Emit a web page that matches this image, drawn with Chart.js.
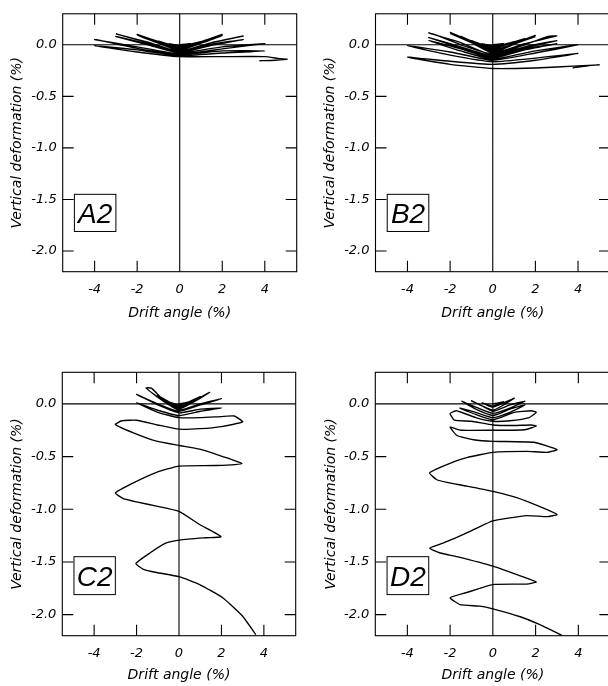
<!DOCTYPE html>
<html>
<head>
<meta charset="utf-8">
<script src="https://cdn.jsdelivr.net/npm/chart.js@4.4.1/dist/chart.umd.min.js"></script>
<style>
  html, body { margin: 0; padding: 0; background: #fff; }
  body { width: 608px; height: 686px; position: relative; overflow: hidden; }
  canvas { position: absolute; }
</style>
</head>
<body>
<script>
// axis ticks shared by the four panels
const xTickVals = [-4, -2, 0, 2, 4];
const yTickVals = [0, -0.5, -1, -1.5, -2];
const xRange = [-5.5, 5.5];
const yRange = [-2.2, 0.3];

// specimen A2: drift angle (%) and vertical deformation (%)
const driftA = [0, 0.5, 0, -0.5, 0, 1, 0.5, 0, -1, -0.5, 0, 1.5, 0.7, 0, -1.5, -0.7, 0,
  1, 2, 1, 0, -1, -2, -1, 0, 1, 2, 1, 0, -1, -2, -1, 0,
  1.5, 3, 1.5, 0, -1.5, -3, -1.5, 0, 1.5, 3, 1.5, 0, -1.5, -3, -1.5, 0,
  2, 4, 3.5, 2, 0, -2, -4, -3.8, -2, 0, 2, 4, 2, 0, -2, -4, -2, 0,
  2, 4, 4.7, 5.05, 4.5, 3.75];
const vertA = [0, 0.01, -0.01, 0.01, -0.015, 0.03, 0.0, -0.025, 0.035, 0.0, -0.03, 0.06, 0.01, -0.035, 0.065, 0.01, -0.04,
  0.02, 0.10, 0.03, -0.045, 0.02, 0.10, 0.03, -0.05, 0.015, 0.09, 0.02, -0.055, 0.015, 0.095, 0.02, -0.06,
  0.02, 0.085, 0.02, -0.065, 0.025, 0.105, 0.02, -0.07, 0.005, 0.05, -0.005, -0.075, 0.01, 0.08, 0.0, -0.08,
  -0.02, 0.01, 0.0, -0.04, -0.09, -0.02, 0.05, 0.045, -0.035, -0.095, -0.06, -0.06, -0.08, -0.105, -0.05, -0.01, -0.07, -0.115,
  -0.115, -0.115, -0.135, -0.14, -0.15, -0.155];

// specimen B2
const driftB = [0, 0.5, 0, -0.5, 0, 1, 0.5, 0, -1, -0.5, 0, 1.5, 0.7, 0, -1.5, -0.7, 0,
  1, 2, 1, 0, -1, -2, -1, 0, 1, 2, 1, 0, -1, -2, -1, 0,
  1.5, 3, 2.6, 1.5, 0, -1.5, -2.8, -3, -2.7, -1.5, 0,
  1.5, 3, 1.5, 0, -1.5, -3, -1.5, 0, 1.5, 3, 1.5, 0, -1.5, -3, -1.5, 0,
  2, 4, 2, 0, -2, -4, -2, 0, 2, 4, 2, 0, -2, -4, -2, 0,
  2, 4, 5, 4.6, 3.75];
const vertB = [0, 0.01, -0.01, 0.01, -0.02, 0.03, 0.0, -0.03, 0.04, 0.0, -0.035, 0.06, 0.005, -0.045, 0.08, 0.01, -0.055,
  0.01, 0.09, 0.015, -0.065, 0.025, 0.12, 0.03, -0.07, 0.005, 0.08, 0.005, -0.075, 0.02, 0.11, 0.02, -0.08,
  0.01, 0.085, 0.08, 0.0, -0.09, 0.0, 0.105, 0.115, 0.095, 0.02, -0.1,
  -0.02, 0.04, -0.03, -0.11, -0.02, 0.07, -0.03, -0.12, -0.04, 0.01, -0.05, -0.13, -0.04, 0.04, -0.06, -0.14,
  -0.06, 0.0, -0.08, -0.15, -0.07, -0.01, -0.1, -0.165, -0.13, -0.085, -0.15, -0.19, -0.16, -0.12, -0.19, -0.23,
  -0.225, -0.205, -0.195, -0.2, -0.225];

// specimen C2
const driftC = [0, 0.5, 0, -0.5, 0, 1, 0.5, 0, -1, -0.5, 0,
  0.7, 1.45, 0.7, 0, -0.7, -1.3, -1.55, -0.7, 0,
  1, 2, 1, 0, -1, -2, -1.8, -1, 0, 1, 2, 1, 0, -1, -2, -1, 0,
  1, 2, 2.6, 3, 2, 1, 0, -1, -2, -2.7, -3, -2.15, -1.06, 0, 0.97, 2.06, 2.96,
  1.75, 0, -1.06, -2.15, -3, -2.62, -2, -1.06, 0, 0.97, 1.98,
  1.28, 0.1, -0.6, -1.37, -2.03, -1.68, -1.06, 0, 0.97, 2.06, 3.0, 3.62];
const vertC = [0, 0.02, -0.01, 0.02, -0.02, 0.07, 0.01, -0.03, 0.08, 0.01, -0.04,
  0.03, 0.11, 0.02, -0.05, 0.03, 0.15, 0.15, 0.02, -0.06,
  0.0, 0.05, -0.01, -0.07, 0.0, 0.09, 0.07, -0.01, -0.085, -0.05, -0.04, -0.07, -0.11, -0.06, 0.01, -0.08, -0.13,
  -0.13, -0.12, -0.115, -0.17, -0.215, -0.235, -0.24, -0.2, -0.155, -0.16, -0.196, -0.275, -0.354, -0.395, -0.43, -0.5, -0.567,
  -0.585, -0.59, -0.65, -0.75, -0.845, -0.9, -0.93, -0.97, -1.02, -1.145, -1.26,
  -1.27, -1.29, -1.32, -1.415, -1.515, -1.57, -1.6, -1.64, -1.715, -1.84, -2.015, -2.19];

// specimen D2
const driftD = [0, 0.5, 0, -0.5, 0, 1, 0.5, 0, -1, -0.5, 0,
  0.8, 1.5, 0.8, 0, -0.8, -1.45, -0.8, 0, 0.8, 1.5, 0.8, 0, -0.8, -1.55, -0.8, 0,
  1, 1.8, 2.03, 1.7, 0.8, 0, -0.8, -1.7, -2, -1.8, -1, 0,
  1, 1.8, 2.03, 1.5, 0, -1.5, -2, -1.68,
  -0.9, 0, 1.9, 3.0, 2.53, 1.59, 0, -1.22, -2.15, -2.96, -2.62, -2.15, -1.22, 0, 1.12, 2.37, 3.0,
  2.53, 1.59, 0, -1.22, -2.31, -2.96, -2.46, -1.68, 0, 1.12, 2.03, 1.59, 0, -1.22, -2.0,
  -1.53, -0.6, 0, 1.28, 2.2, 3.23];
const vertD = [0, 0.02, -0.02, 0.01, -0.03, 0.055, -0.01, -0.06, 0.03, -0.02, -0.07,
  -0.01, 0.025, -0.04, -0.09, -0.03, 0.025, -0.05, -0.11, -0.05, -0.01, -0.08, -0.13, -0.08, -0.04, -0.1, -0.15,
  -0.08, -0.065, -0.08, -0.13, -0.16, -0.165, -0.13, -0.065, -0.09, -0.155, -0.165, -0.2,
  -0.205, -0.2, -0.21, -0.245, -0.25, -0.25, -0.22, -0.30,
  -0.34, -0.355, -0.364, -0.434, -0.46, -0.45, -0.46, -0.51, -0.576, -0.655, -0.72, -0.745, -0.78, -0.83, -0.89, -0.99, -1.05,
  -1.07, -1.06, -1.11, -1.225, -1.32, -1.37, -1.415, -1.45, -1.54, -1.62, -1.69, -1.71, -1.715, -1.79, -1.84,
  -1.905, -1.92, -1.945, -2.02, -2.095, -2.196];

// label box corners in data units
const labelBoxX = [-4.95, -3.0];
const labelBoxY = [-1.45, -1.81];

const TICK = 11;
const tickFont = { family: 'DejaVu Sans', size: 13, style: 'italic' };
const titleFont = { family: 'DejaVu Sans', size: 14, style: 'italic' };

const panels = [
  { name: 'A2', drift: driftA, vert: vertA, x0: 0, y0: 0, w: 300, h: 330, L: 62.7, T: 11, R: 296.7, B: 271.7, yTitleX: 17, xTitleY: 313 },
  { name: 'B2', drift: driftB, vert: vertB, x0: 313, y0: 0, w: 300, h: 330, L: 375.5, T: 10, R: 610, B: 271.7, yTitleX: 330.5, xTitleY: 313 },
  { name: 'C2', drift: driftC, vert: vertC, x0: 0, y0: 340, w: 300, h: 346, L: 62.3, T: 372.3, R: 295.7, B: 635.7, yTitleX: 17.5, xTitleY: 675 },
  { name: 'D2', drift: driftD, vert: vertD, x0: 313, y0: 340, w: 300, h: 346, L: 375.3, T: 372.3, R: 610.4, B: 635.7, yTitleX: 331, xTitleY: 675 }
];

const framePlugin = {
  id: 'frame',
  afterDatasetsDraw(chart, args, opts) {
    const { ctx, chartArea: a, scales: { x, y } } = chart;
    ctx.save();
    ctx.strokeStyle = '#000';
    ctx.lineWidth = 1.1;
    ctx.beginPath();
    const zx = x.getPixelForValue(0), zy = y.getPixelForValue(0);
    ctx.moveTo(a.left, zy); ctx.lineTo(a.right, zy);
    ctx.moveTo(zx, a.top); ctx.lineTo(zx, a.bottom);
    for (const t of x.ticks) {
      const px = x.getPixelForValue(t.value);
      ctx.moveTo(px, a.top); ctx.lineTo(px, a.top + TICK);
      ctx.moveTo(px, a.bottom); ctx.lineTo(px, a.bottom - TICK);
    }
    for (const t of y.ticks) {
      const py = y.getPixelForValue(t.value);
      ctx.moveTo(a.left, py); ctx.lineTo(a.left + TICK, py);
      ctx.moveTo(a.right, py); ctx.lineTo(a.right - TICK, py);
    }
    ctx.stroke();
    ctx.strokeRect(a.left, a.top, a.width, a.height);

    // panel label
    const bx1 = x.getPixelForValue(labelBoxX[0]), bx2 = x.getPixelForValue(labelBoxX[1]);
    const by1 = y.getPixelForValue(labelBoxY[0]), by2 = y.getPixelForValue(labelBoxY[1]);
    ctx.fillStyle = '#fff';
    ctx.fillRect(bx1, by1, bx2 - bx1, by2 - by1);
    ctx.lineWidth = 1;
    ctx.strokeRect(bx1, by1, bx2 - bx1, by2 - by1);
    ctx.fillStyle = '#000';
    ctx.font = 'italic 28px "Liberation Sans", Arial, sans-serif';
    ctx.textAlign = 'center';
    ctx.textBaseline = 'alphabetic';
    ctx.fillText(opts.label, (bx1 + bx2) / 2, (by1 + by2) / 2 + 0.716 * 28 / 2);
    ctx.restore();
  }
};

function makePanel(p) {
  const canvas = document.createElement('canvas');
  canvas.width = p.w;
  canvas.height = p.h;
  canvas.style.left = p.x0 + 'px';
  canvas.style.top = p.y0 + 'px';
  document.body.appendChild(canvas);

  const points = p.drift.map((d, i) => ({ x: d, y: p.vert[i] }));
  const half = titleFont.size * 1.2 / 2;

  return new Chart(canvas, {
    type: 'scatter',
    data: {
      datasets: [{
        data: points,
        showLine: true,
        borderColor: '#000',
        borderWidth: 1.35,
        pointRadius: 0,
        tension: 0.15,
        fill: false
      }]
    },
    options: {
      responsive: false,
      animation: false,
      events: [],
      layout: { padding: { left: 0, top: p.T - p.y0, right: p.x0 + p.w - p.R, bottom: 0 } },
      plugins: {
        legend: { display: false },
        tooltip: { enabled: false },
        frame: { label: p.name }
      },
      scales: {
        x: {
          type: 'linear',
          min: xRange[0],
          max: xRange[1],
          afterBuildTicks: s => { s.ticks = xTickVals.map(v => ({ value: v })); },
          afterFit: s => { s.height = p.y0 + p.h - p.B; },
          grid: { display: false, drawTicks: false },
          border: { display: false },
          ticks: { font: tickFont, color: '#000', padding: 10, maxRotation: 0, callback: v => String(v) },
          title: {
            display: true, text: 'Drift angle (%)', font: titleFont, color: '#000',
            padding: { top: 0, bottom: p.y0 + p.h - p.xTitleY - half }
          }
        },
        y: {
          type: 'linear',
          min: yRange[0],
          max: yRange[1],
          afterBuildTicks: s => { s.ticks = yTickVals.map(v => ({ value: v })); },
          afterFit: s => { s.width = p.L - p.x0; },
          grid: { display: false, drawTicks: false },
          border: { display: false },
          ticks: { font: tickFont, color: '#000', padding: 6, callback: v => v.toFixed(1) },
          title: {
            display: true, text: 'Vertical deformation (%)', font: titleFont, color: '#000',
            padding: { top: p.yTitleX - p.x0 - half, bottom: 0 }
          }
        }
      }
    },
    plugins: [framePlugin]
  });
}

panels.forEach(makePanel);
</script>
</body>
</html>
